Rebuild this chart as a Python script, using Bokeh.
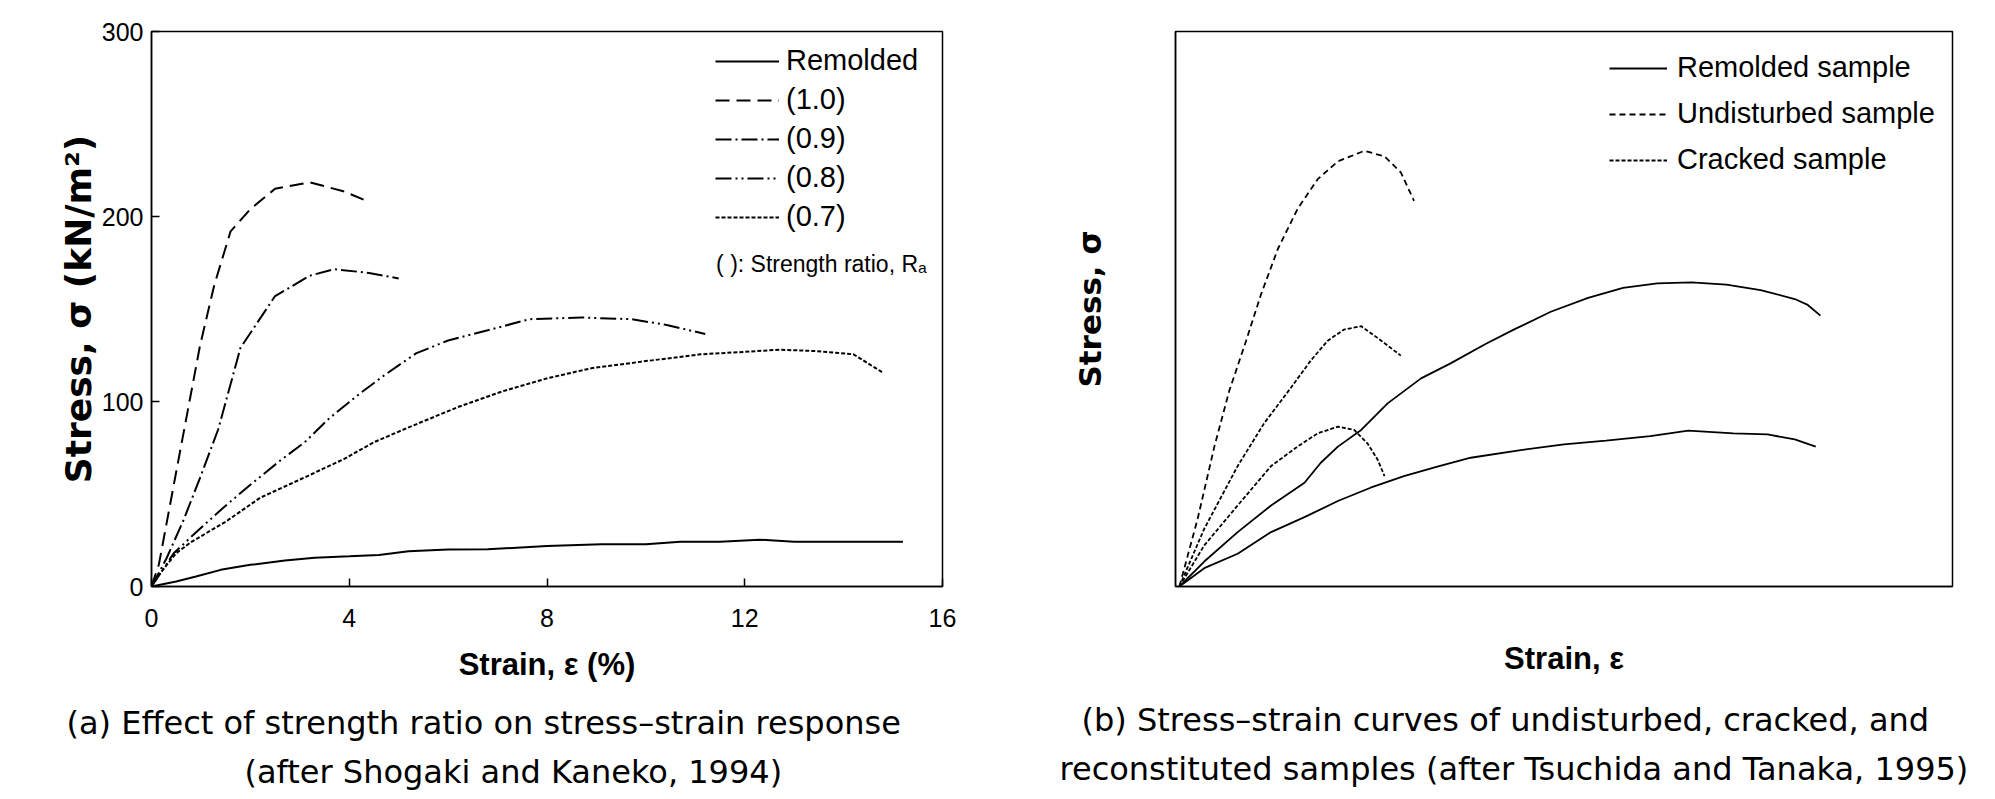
from bokeh.plotting import figure
from bokeh.models import Range1d, FixedTicker, Legend, LegendItem, Label, Title
from bokeh.layouts import row
from bokeh.embed import file_html
from bokeh.resources import INLINE

# ---------------- (a) data ----------------
x_ticks_a = [0, 4, 8, 12, 16]
y_ticks_a = [0, 100, 200, 300]

strain_remolded = [0, 0.5, 0.9, 1.4, 2.0, 2.7, 3.3, 4.0, 4.6, 5.2, 6.0, 6.8, 8.0, 9.1, 10.0, 10.7, 11.5, 12.3, 13.0, 15.2]
stress_remolded = [0, 2.7, 5.4, 9.0, 11.7, 14.0, 15.5, 16.3, 17.0, 19.0, 20.0, 20.1, 21.9, 22.8, 22.8, 24.2, 24.2, 25.3, 24.2, 24.2]

strain_10 = [0, 0.15, 0.5, 0.98, 1.27, 1.6, 2.0, 2.5, 3.2, 3.9, 4.3]
stress_10 = [0, 12, 62, 130, 163, 192, 204, 215, 218.5, 213.5, 209]

strain_09 = [0, 0.3, 0.65, 1.0, 1.35, 1.8, 2.5, 3.2, 3.7, 4.4, 5.0]
stress_09 = [0, 15, 36, 60, 85, 129, 157, 168, 171.5, 169.5, 166.5]

strain_08 = [0, 0.45, 0.93, 1.47, 2.0, 2.6, 3.1, 3.6, 4.2, 4.7, 5.35, 6.0, 6.8, 7.65, 8.7, 9.7, 10.4, 11.2]
stress_08 = [0, 18, 30, 43, 55, 68, 78, 91, 104, 114, 126, 133, 138.5, 144.5, 145.4, 144.5, 141.5, 136.5]

strain_07 = [0, 0.2, 0.5, 0.8, 1.5, 2.2, 3.1, 3.9, 4.5, 5.2, 6.2, 7.1, 8.0, 8.9, 9.9, 11.1, 12.1, 12.7, 13.4, 14.2, 14.8]
stress_07 = [0, 8, 18, 24, 35, 48, 59, 69, 78, 86, 97, 105.5, 112.5, 118, 121.5, 125.5, 127, 128, 127.3, 125.5, 115.5]

labels_a = ["Remolded", "(1.0)", "(0.9)", "(0.8)", "(0.7)"]

# ---------------- (b) data (schematic, relative units) ----------------
rem_hi_x = [0.5, 3.7, 8.0, 12.3, 16.6, 18.7, 20.9, 23.9, 27.3, 31.6, 35.4, 39.9, 43.4, 48.3, 53.1, 57.6, 62.0, 66.4, 70.9, 75.3, 79.7, 81.3, 83.0]
rem_hi_y = [0, 4.5, 9.8, 14.6, 18.7, 22.3, 25.2, 28.2, 33.0, 37.5, 40.2, 43.7, 46.2, 49.5, 52.0, 53.8, 54.6, 54.8, 54.4, 53.4, 51.8, 50.8, 48.8]

rem_lo_x = [0.5, 3.7, 8.0, 12.3, 16.6, 20.9, 25.1, 29.4, 33.7, 38.0, 44.0, 50.0, 55.4, 61.1, 66.0, 71.8, 76.2, 79.7, 82.4]
rem_lo_y = [0, 3.3, 5.9, 9.8, 12.5, 15.4, 17.8, 19.9, 21.6, 23.2, 24.5, 25.6, 26.3, 27.1, 28.1, 27.6, 27.4, 26.5, 25.2]

und_x = [0.5, 2.85, 5.0, 6.93, 9.07, 11.0, 13.2, 15.7, 18.3, 20.9, 24.3, 26.9, 29.0, 30.7]
und_y = [0, 12.2, 25.2, 35.3, 44.2, 52.6, 60.9, 68.0, 73.4, 76.6, 78.5, 77.5, 74.6, 69.5]

crk_hi_x = [0.5, 3.7, 8.0, 11.4, 14.9, 17.4, 19.6, 21.7, 23.9, 26.0, 29.0]
crk_hi_y = [0, 10.4, 21.7, 29.4, 35.9, 40.7, 44.3, 46.3, 46.9, 44.8, 41.6]

crk_lo_x = [0.5, 3.7, 8.0, 12.3, 15.7, 18.3, 20.9, 23.0, 24.7, 26.0, 26.9]
crk_lo_y = [0, 7.4, 14.6, 21.7, 25.2, 27.6, 28.8, 28.2, 25.8, 22.9, 19.9]

labels_b = ["Remolded sample", "Undisturbed sample", "Cracked sample"]

caption_a = ["(a) Effect of strength ratio on stress\u2013strain response", "(after Shogaki and Kaneko, 1994)"]
caption_b = ["(b) Stress\u2013strain curves of undisturbed, cracked, and", "reconstituted samples (after Tsuchida and Tanaka, 1995)"]

FONT = "Liberation Sans"
CAP_FONT = "DejaVu Sans"
CAP_SIZE = "32px"


def style(p):
    p.xgrid.visible = False
    p.ygrid.visible = False
    p.outline_line_color = "black"
    p.outline_line_width = 1.5
    p.background_fill_color = "white"
    p.border_fill_color = "white"
    for ax in (p.xaxis[0], p.yaxis[0]):
        ax.axis_line_color = "black"
        ax.axis_line_width = 1.5
        ax.major_tick_line_color = "black"
        ax.major_tick_line_width = 1.5
        ax.major_tick_in = 8
        ax.major_tick_out = 0
        ax.minor_tick_line_color = None
        ax.major_label_text_font = FONT
        ax.major_label_text_font_size = "25px"
        ax.major_label_text_color = "black"
        ax.axis_label_text_font = FONT
        ax.axis_label_text_font_size = "31px"
        ax.axis_label_text_font_style = "bold"
        ax.axis_label_text_color = "black"


def spacer(p, standoff):
    p.add_layout(Title(text=" ", text_font_size="2px", standoff=standoff), "below")


def caption(p, text, offset, standoff):
    p.add_layout(Title(text=text, align="left", offset=offset, text_font=CAP_FONT,
                       text_font_size=CAP_SIZE, text_font_style="normal", text_color="black",
                       standoff=standoff), "below")


# ---------------- figure (a) ----------------
fa = figure(width=1060, height=799, x_range=Range1d(0, 16), y_range=Range1d(0, 300),
            output_backend="svg", toolbar_location=None,
            min_border_left=151, min_border_right=118, min_border_top=28, min_border_bottom=213)
style(fa)
fa.xaxis.ticker = FixedTicker(ticks=x_ticks_a)
fa.yaxis.ticker = FixedTicker(ticks=y_ticks_a)
fa.xaxis.major_label_standoff = 22
fa.yaxis.major_label_standoff = 8
fa.xaxis.axis_label = "Strain, \u03b5 (%)"
fa.yaxis.axis_label = "Stress, \u03c3 (kN/m\u00b2)"
fa.yaxis.axis_label_text_font = "DejaVu Sans"
fa.yaxis.axis_label_text_font_size = "36px"
fa.xaxis.axis_label_standoff = 17
fa.yaxis.axis_label_standoff = 0

lw = 2
r0 = fa.line(strain_remolded, stress_remolded, line_color="black", line_width=lw)
r1 = fa.line(strain_10, stress_10, line_color="black", line_width=lw, line_dash="14 7")
r2 = fa.line(strain_09, stress_09, line_color="black", line_width=lw, line_dash="16 4 2 4")
r3 = fa.line(strain_08, stress_08, line_color="black", line_width=lw, line_dash="16 4 2 4 2 4")
r4 = fa.line(strain_07, stress_07, line_color="black", line_width=lw, line_dash="4 2")

leg_a = Legend(items=[LegendItem(label=l, renderers=[r]) for l, r in zip(labels_a, [r0, r1, r2, r3, r4])],
               location=(564, 353), glyph_width=64, glyph_height=30, label_height=30,
               label_standoff=7, spacing=6, padding=0, margin=0,
               border_line_color=None, background_fill_alpha=0,
               label_text_font=FONT, label_text_font_size="29px", label_text_color="black")
fa.add_layout(leg_a)

fa.add_layout(Label(x=11.42, y=174.5, text="( ): Strength ratio, R\u2090", text_font=FONT,
                    text_font_size="23px", text_baseline="middle", text_color="black"))

spacer(fa, 5)
caption(fa, caption_a[0], -85, 17)
caption(fa, caption_a[1], 93, 0)

# ---------------- figure (b) ----------------
fb = figure(width=935, height=799, x_range=Range1d(0, 100), y_range=Range1d(0, 100),
            output_backend="svg", toolbar_location=None,
            min_border_left=115, min_border_right=43, min_border_top=31, min_border_bottom=207)
style(fb)
fb.xaxis.ticker = FixedTicker(ticks=[])
fb.yaxis.ticker = FixedTicker(ticks=[])
fb.xaxis.axis_label = "Strain, \u03b5"
fb.yaxis.axis_label = "Stress, \u03c3"
fb.yaxis.axis_label_text_font = "DejaVu Sans"
fb.xaxis.axis_label_standoff = 54
fb.yaxis.axis_label_standoff = 68

lwb = 1.8
s0 = fb.line(rem_hi_x, rem_hi_y, line_color="black", line_width=lwb)
fb.line(rem_lo_x, rem_lo_y, line_color="black", line_width=lwb)
s1 = fb.line(und_x, und_y, line_color="black", line_width=lwb, line_dash="6 4")
s2 = fb.line(crk_hi_x, crk_hi_y, line_color="black", line_width=lwb, line_dash="4 2")
fb.line(crk_lo_x, crk_lo_y, line_color="black", line_width=lwb, line_dash="4 2")

leg_b = Legend(items=[LegendItem(label=l, renderers=[r]) for l, r in zip(labels_b, [s0, s1, s2])],
               location=(434, 410), glyph_width=58, glyph_height=30, label_height=30,
               label_standoff=10, spacing=13, padding=0, margin=0,
               border_line_color=None, background_fill_alpha=0,
               label_text_font=FONT, label_text_font_size="29px", label_text_color="black")
fb.add_layout(leg_b)

spacer(fb, 8)
caption(fb, caption_b[0], -94, 17)
caption(fb, caption_b[1], -116, 0)

layout = row(fa, fb)
open("out.html", "w").write(file_html(layout, INLINE))
